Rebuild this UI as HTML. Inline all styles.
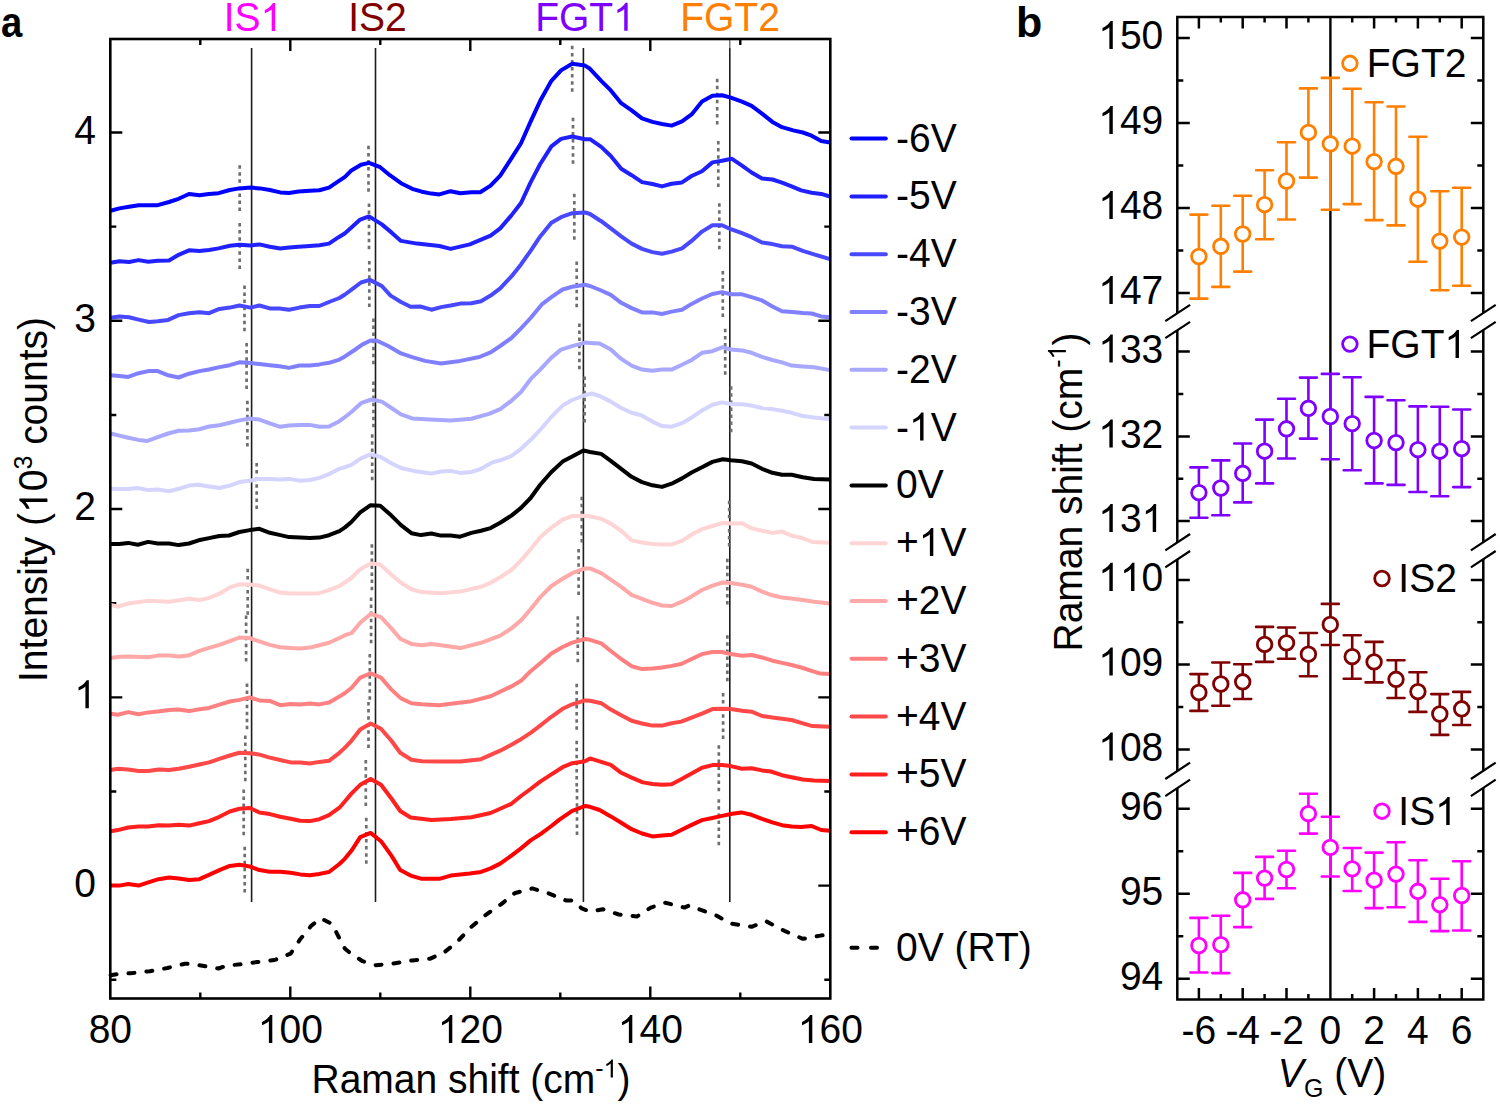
<!DOCTYPE html>
<html><head><meta charset="utf-8"><style>
html,body{margin:0;padding:0;background:#fff;}
svg{display:block;}
.t{font-family:"Liberation Sans",sans-serif;font-size:39px;fill:#000;}
.h{fill-opacity:0;}
.b{font-family:"Liberation Sans",sans-serif;font-size:43px;font-weight:bold;fill:#000;}
</style></head><body>
<svg width="1500" height="1104" viewBox="0 0 1500 1104">
<rect width="1500" height="1104" fill="#fff"/>
<path d="M290.3 998.5V986.5M290.3 39.0V51.0M470.3 998.5V986.5M470.3 39.0V51.0M650.3 998.5V986.5M650.3 39.0V51.0M200.3 998.5V992.5M200.3 39.0V45.0M380.3 998.5V992.5M380.3 39.0V45.0M560.3 998.5V992.5M560.3 39.0V45.0M740.3 998.5V992.5M740.3 39.0V45.0M110.3 697.33H122.3M830.3 697.33H818.3M110.3 509.06H122.3M830.3 509.06H818.3M110.3 320.78999999999996H122.3M830.3 320.78999999999996H818.3M110.3 132.51999999999998H122.3M830.3 132.51999999999998H818.3M110.3 885.6H122.3M830.3 885.6H818.3M110.3 979.735H116.3M830.3 979.735H824.3M110.3 791.465H116.3M830.3 791.465H824.3M110.3 603.1949999999999H116.3M830.3 603.1949999999999H824.3M110.3 414.925H116.3M830.3 414.925H824.3M110.3 226.65499999999997H116.3M830.3 226.65499999999997H824.3" stroke="#000" stroke-width="2.4" fill="none"/>
<line x1="251.6" y1="48" x2="251.6" y2="902" stroke="#1c1c1c" stroke-width="1.6"/>
<line x1="375.5" y1="48" x2="375.5" y2="902" stroke="#1c1c1c" stroke-width="1.6"/>
<line x1="583.4" y1="48" x2="583.4" y2="902" stroke="#1c1c1c" stroke-width="1.6"/>
<line x1="729.8" y1="48" x2="729.8" y2="902" stroke="#1c1c1c" stroke-width="1.6"/>
<line x1="239.7" y1="165.19" x2="239.7" y2="211.12" stroke="#6e6e6e" stroke-width="2.7" stroke-dasharray="3.5 3.57"/>
<line x1="368.5" y1="145.84" x2="368.5" y2="191.77" stroke="#6e6e6e" stroke-width="2.7" stroke-dasharray="3.5 3.57"/>
<line x1="572.2" y1="45.84" x2="572.2" y2="91.77" stroke="#6e6e6e" stroke-width="2.7" stroke-dasharray="3.5 3.57"/>
<line x1="717.2" y1="78.64" x2="717.2" y2="124.57" stroke="#6e6e6e" stroke-width="2.7" stroke-dasharray="3.5 3.57"/>
<line x1="239.7" y1="223.04" x2="239.7" y2="268.97" stroke="#6e6e6e" stroke-width="2.7" stroke-dasharray="3.5 3.57"/>
<line x1="369" y1="203.44" x2="369" y2="249.37" stroke="#6e6e6e" stroke-width="2.7" stroke-dasharray="3.5 3.57"/>
<line x1="573" y1="117.84" x2="573" y2="163.77" stroke="#6e6e6e" stroke-width="2.7" stroke-dasharray="3.5 3.57"/>
<line x1="718.3" y1="141.04" x2="718.3" y2="186.97" stroke="#6e6e6e" stroke-width="2.7" stroke-dasharray="3.5 3.57"/>
<line x1="244.5" y1="285.44" x2="244.5" y2="331.37" stroke="#6e6e6e" stroke-width="2.7" stroke-dasharray="3.5 3.57"/>
<line x1="369.3" y1="261.04" x2="369.3" y2="306.97" stroke="#6e6e6e" stroke-width="2.7" stroke-dasharray="3.5 3.57"/>
<line x1="574.3" y1="193.84" x2="574.3" y2="239.77" stroke="#6e6e6e" stroke-width="2.7" stroke-dasharray="3.5 3.57"/>
<line x1="719.3" y1="203.24" x2="719.3" y2="249.17" stroke="#6e6e6e" stroke-width="2.7" stroke-dasharray="3.5 3.57"/>
<line x1="246.6" y1="343.04" x2="246.6" y2="388.97" stroke="#6e6e6e" stroke-width="2.7" stroke-dasharray="3.5 3.57"/>
<line x1="373.5" y1="318.44" x2="373.5" y2="364.37" stroke="#6e6e6e" stroke-width="2.7" stroke-dasharray="3.5 3.57"/>
<line x1="576.7" y1="261.44" x2="576.7" y2="307.37" stroke="#6e6e6e" stroke-width="2.7" stroke-dasharray="3.5 3.57"/>
<line x1="722.8" y1="271.04" x2="722.8" y2="316.97" stroke="#6e6e6e" stroke-width="2.7" stroke-dasharray="3.5 3.57"/>
<line x1="247.4" y1="400.64" x2="247.4" y2="446.57" stroke="#6e6e6e" stroke-width="2.7" stroke-dasharray="3.5 3.57"/>
<line x1="373.5" y1="381.44" x2="373.5" y2="427.37" stroke="#6e6e6e" stroke-width="2.7" stroke-dasharray="3.5 3.57"/>
<line x1="579.4" y1="323.44" x2="579.4" y2="369.37" stroke="#6e6e6e" stroke-width="2.7" stroke-dasharray="3.5 3.57"/>
<line x1="725.2" y1="328.84" x2="725.2" y2="374.77" stroke="#6e6e6e" stroke-width="2.7" stroke-dasharray="3.5 3.57"/>
<line x1="256.7" y1="463.04" x2="256.7" y2="508.97" stroke="#6e6e6e" stroke-width="2.7" stroke-dasharray="3.5 3.57"/>
<line x1="372.2" y1="434.24" x2="372.2" y2="480.17" stroke="#6e6e6e" stroke-width="2.7" stroke-dasharray="3.5 3.57"/>
<line x1="584.6" y1="376.54" x2="584.6" y2="422.47" stroke="#6e6e6e" stroke-width="2.7" stroke-dasharray="3.5 3.57"/>
<line x1="731.1" y1="386.24" x2="731.1" y2="432.17" stroke="#6e6e6e" stroke-width="2.7" stroke-dasharray="3.5 3.57"/>
<line x1="247.7" y1="568.84" x2="247.7" y2="614.77" stroke="#6e6e6e" stroke-width="2.7" stroke-dasharray="3.5 3.57"/>
<line x1="371.9" y1="544.24" x2="371.9" y2="590.17" stroke="#6e6e6e" stroke-width="2.7" stroke-dasharray="3.5 3.57"/>
<line x1="581.8" y1="496.64" x2="581.8" y2="542.57" stroke="#6e6e6e" stroke-width="2.7" stroke-dasharray="3.5 3.57"/>
<line x1="729.2" y1="500.64" x2="729.2" y2="546.57" stroke="#6e6e6e" stroke-width="2.7" stroke-dasharray="3.5 3.57"/>
<line x1="246.1" y1="615.54" x2="246.1" y2="661.47" stroke="#6e6e6e" stroke-width="2.7" stroke-dasharray="3.5 3.57"/>
<line x1="371.1" y1="597.44" x2="371.1" y2="643.37" stroke="#6e6e6e" stroke-width="2.7" stroke-dasharray="3.5 3.57"/>
<line x1="578.6" y1="549.04" x2="578.6" y2="594.97" stroke="#6e6e6e" stroke-width="2.7" stroke-dasharray="3.5 3.57"/>
<line x1="727.3" y1="558.64" x2="727.3" y2="604.57" stroke="#6e6e6e" stroke-width="2.7" stroke-dasharray="3.5 3.57"/>
<line x1="247" y1="683.44" x2="247" y2="729.37" stroke="#6e6e6e" stroke-width="2.7" stroke-dasharray="3.5 3.57"/>
<line x1="369.8" y1="653.94" x2="369.8" y2="699.87" stroke="#6e6e6e" stroke-width="2.7" stroke-dasharray="3.5 3.57"/>
<line x1="577.8" y1="616.24" x2="577.8" y2="662.17" stroke="#6e6e6e" stroke-width="2.7" stroke-dasharray="3.5 3.57"/>
<line x1="727.3" y1="635.24" x2="727.3" y2="681.17" stroke="#6e6e6e" stroke-width="2.7" stroke-dasharray="3.5 3.57"/>
<line x1="245.3" y1="735.44" x2="245.3" y2="781.37" stroke="#6e6e6e" stroke-width="2.7" stroke-dasharray="3.5 3.57"/>
<line x1="368.5" y1="702.04" x2="368.5" y2="747.97" stroke="#6e6e6e" stroke-width="2.7" stroke-dasharray="3.5 3.57"/>
<line x1="576.7" y1="683.84" x2="576.7" y2="729.77" stroke="#6e6e6e" stroke-width="2.7" stroke-dasharray="3.5 3.57"/>
<line x1="723.1" y1="693.04" x2="723.1" y2="738.97" stroke="#6e6e6e" stroke-width="2.7" stroke-dasharray="3.5 3.57"/>
<line x1="243.7" y1="789.44" x2="243.7" y2="835.37" stroke="#6e6e6e" stroke-width="2.7" stroke-dasharray="3.5 3.57"/>
<line x1="365.8" y1="760.04" x2="365.8" y2="805.97" stroke="#6e6e6e" stroke-width="2.7" stroke-dasharray="3.5 3.57"/>
<line x1="576.7" y1="740.64" x2="576.7" y2="786.57" stroke="#6e6e6e" stroke-width="2.7" stroke-dasharray="3.5 3.57"/>
<line x1="718.8" y1="745.24" x2="718.8" y2="791.17" stroke="#6e6e6e" stroke-width="2.7" stroke-dasharray="3.5 3.57"/>
<line x1="244.7" y1="846.64" x2="244.7" y2="892.57" stroke="#6e6e6e" stroke-width="2.7" stroke-dasharray="3.5 3.57"/>
<line x1="366.3" y1="817.84" x2="366.3" y2="863.77" stroke="#6e6e6e" stroke-width="2.7" stroke-dasharray="3.5 3.57"/>
<line x1="577" y1="789.04" x2="577" y2="834.97" stroke="#6e6e6e" stroke-width="2.7" stroke-dasharray="3.5 3.57"/>
<line x1="718.8" y1="799.24" x2="718.8" y2="845.17" stroke="#6e6e6e" stroke-width="2.7" stroke-dasharray="3.5 3.57"/>
<line x1="729.8" y1="40" x2="729.8" y2="48.5" stroke="#666" stroke-width="1.3"/>
<polyline points="110.6 210.8 119.4 208.4 129 206.8 138.6 205.2 157.8 205.2 169 202 178.6 198.8 189 194 199.4 195.3 209 194 218.6 193.2 229.8 190 239.4 188.4 250.6 187.6 260.2 188.4 269.8 190 280.2 192.4 289 192.9 298.6 191.6 309.8 190.8 319.4 190.3 329 187.6 338.6 181.2 345 176.8 351.4 170.4 361 164.8 369 162.9 380.2 167.2 389.8 175.2 401 183.2 412.2 188.8 421.8 191.7 431.4 193.6 439.4 194.4 450.6 191.2 460.2 193.3 471.4 192.3 480.2 192.3 490.6 185.6 500.2 175.7 511.4 158.4 521 143.2 530.6 121.6 540.2 100.8 551.4 80.8 561 70.4 572.2 63.7 585 65.6 590 68.8 601.2 80.8 610.8 90.4 621.2 103.2 631.6 110.4 642 118.4 652.4 121.9 662 124 671.6 125.6 682 121.3 691.6 114.4 702 101.6 712.4 95.7 722 95.2 730.8 97.6 742 101.6 751.6 105.9 762 113.6 772.4 121.9 782 127.2 793.2 130.4 802.8 132.5 811.6 135.7 821.2 141.1 830 142.4" fill="none" stroke="#0000ff" stroke-width="4.0" stroke-linejoin="round" stroke-linecap="butt"/>
<polyline points="110.6 262.8 119.4 261.2 129 262 138.6 260.1 148.2 261.7 157.8 260.7 169 260.4 178.6 254.8 189 250.3 199.4 251.1 209 250 218.6 248.4 229.8 245.7 239.4 244.7 250.6 245.5 259.4 244.4 269.8 246.8 280.2 248.4 289 247.6 298.6 246.8 309.8 246 319.4 245.2 329 243.6 338.6 237.2 345 233.2 351.4 227.6 360.2 219.6 369 216.4 381.8 224.4 391.4 232.4 401 240.9 417 243.6 439.4 246 450.6 248.9 469.8 244.4 490.6 235.6 500.2 228.4 511.4 215.4 521 203 530.6 182.4 540.2 164 551.4 146.4 561 138.9 572.2 136.5 585 139.2 590 139.2 601.2 146.9 610.8 156 621.2 168.8 631.6 175.2 642 182.1 652.4 184 662 186.4 671.6 183.7 682 182.4 691.6 176 702 171.2 712.4 162.4 722 160.8 731.6 158.7 742 165.6 751.6 172.5 762 178.4 772.4 179.5 782 182.7 791.6 186.4 801.2 190.4 811.6 192.8 821.2 193.9 830 196.5" fill="none" stroke="#2020ff" stroke-width="4.0" stroke-linejoin="round" stroke-linecap="butt"/>
<polyline points="110.6 317.7 119.4 316.4 129 317.2 138.6 319.6 149 322 157.8 321.2 168.2 319.9 178.6 315.1 189 313.2 199.4 312.2 209 313.2 219.4 308.9 229.8 307.6 239.4 305.5 250.6 307.6 259.4 305.5 269.8 308.4 279.4 308.4 289 309.7 299.4 307.6 309.8 306 319.4 306 329 302 339.4 298 345 294.5 352.2 289.2 361 282.5 369.8 279.9 381.8 286 390.6 295.6 401 302 410.6 306.8 420.2 306.5 431.4 309.7 441 307.1 450.6 305.5 460.2 303.6 471.4 303.3 481 301.2 490.6 295.6 500.2 288.4 511.4 276.4 521 264.4 530.6 250.8 540.2 236.4 551.4 222.8 561 217.2 572.2 213.2 585 212.4 590 214 601.2 221.2 610.8 228.4 621.2 236.4 631.6 243.6 642 248.9 652.4 252.1 662 253.7 671.6 251.6 682 248.4 691.6 240.9 702 231.6 712.4 225.2 722 225.2 730.8 229.2 742 233.2 751.6 237.2 762 242.5 772.4 244.1 782 246.3 792.4 246.8 802.8 250.8 814 254.3 830 259.1" fill="none" stroke="#4848ff" stroke-width="4.0" stroke-linejoin="round" stroke-linecap="butt"/>
<polyline points="110.6 375.3 119.4 375.9 128.2 376.9 138.6 373.2 148.2 371.1 157.8 371.1 168.2 375.3 178.6 377.5 189 373.7 199.4 371.1 209 369.5 219.4 367.1 229.8 365.2 239.4 362.3 250.6 363.1 259.4 364.1 269.8 365.2 279.4 366.3 289 367.9 299.4 365.5 309.8 365.5 319.4 364.4 329 362.8 339.4 359.6 345 356.4 354.6 350 362.6 344.4 370.6 340.5 377 340.7 388.2 346 401 353.4 412.2 357.2 425 360.9 441 363.5 460.2 360.9 479.4 357 490.6 352.4 500.2 346 511.4 338 521 328.4 530.6 318 541.8 304.4 551.4 297.2 562.6 289.5 572.2 286.8 585 284.7 590 286 601.2 290.5 610.8 294.8 621.2 302.8 631.6 308.1 642 312.4 652.4 312.4 662 314 671.6 311.6 682 309.7 691.6 303.9 702 298.5 712.4 294 722 292.1 730.8 294.3 742 294.3 751.6 297.2 762 300.4 772.4 306.5 782 311.3 792.4 311.9 802.8 312.9 811.6 313.5 821.2 316.4 830 317.2" fill="none" stroke="#8080ff" stroke-width="4.0" stroke-linejoin="round" stroke-linecap="butt"/>
<polyline points="110.6 433.5 119.4 435.6 128.2 437.7 138.6 439.9 147.4 440.9 157.8 437.2 168.2 433.5 178.6 430.8 189 430.5 199.4 429.2 209 426.5 219.4 425.2 229.8 422.8 239.4 420.4 249.8 418.5 259.4 419.6 269.8 423.3 280.2 426.8 289 425.5 299.4 424.9 309.8 424.9 319.4 426.8 329 426.5 339.4 421.2 345 417 351.4 412 361 403.2 371.4 399.5 381.8 401.6 391.4 408 401 414.4 412.2 418.4 429.8 419.5 450.6 420.5 471.4 418.7 489 413.9 500.2 409.1 511.4 400.8 521 392 530.6 379.2 540.2 369.6 551.4 357.6 561 349.6 572.2 346.1 585 342.6 590 342.9 599.6 343.5 610.8 349.6 621.2 358.9 631.6 365.6 642 369.6 652.4 370.7 662 369.6 671.6 369.6 682 364.8 691.6 360 702 352.8 712.4 351.2 722.8 347.2 730.8 349.6 742 350.4 751.6 352.8 762 356.8 772.4 360 782 362.4 791.6 365.6 802.8 366.4 814 367.2 830 370.1" fill="none" stroke="#a8a8ff" stroke-width="4.0" stroke-linejoin="round" stroke-linecap="butt"/>
<polyline points="110.6 488.8 119.4 489.1 128.2 489.1 137.8 488 148.2 490.1 157.8 489.6 169 491.2 178.6 488.8 189 485.6 198.6 484.8 209 486.4 219.4 488 229.8 485.6 239.4 482.1 249.8 480.8 258.6 478.9 269.8 478.9 279.4 479.5 289 478.9 300.2 480.8 309.8 480 319.4 477.9 329 474.1 339.4 468.8 345 467.2 351.4 464.8 361 458.4 370.6 454.4 380.2 456.8 391.4 463.2 401 468 413.8 470.9 431.4 473.6 441 471.5 450.6 470.9 461 473.1 471.4 472 481 468.8 492.2 462.4 501 460 511.4 456 521 448.8 532.2 438.4 541.8 428 551.4 416.8 562.6 405.6 572.2 400 585 395.2 591.5 393.5 599.6 396 610.8 401.6 621.2 408 631.6 412.8 641.2 415.2 652.4 421.6 662 426.1 671.6 426.7 682 423.2 691.6 417.6 702 410.4 712.4 404.8 722 402.4 730.8 404 742 404.3 751.6 405.6 762 408 772.4 409.1 782 410.7 791.6 412.8 802.8 416 814 417.6 830 419.2" fill="none" stroke="#d4d4ff" stroke-width="4.0" stroke-linejoin="round" stroke-linecap="butt"/>
<polyline points="110.6 544 119.4 544 128.2 542.9 137.8 544.8 148.2 541.9 157.8 543.5 169 543.5 178.6 545.1 189 543.5 198.6 540.3 209 538.1 219.4 536 229 535.5 239.4 532 249.8 530.1 259.4 528.8 269.8 532.8 279.4 534.9 289 537.1 300.2 537.6 309.8 538.1 319.4 537.6 329 535.2 339.4 531.2 345 527.4 351.4 522 360.2 512.4 370.6 505.2 380.2 505.7 391.4 515.6 401 525.2 411.4 533.2 421 535.1 431.4 533.5 441 535.6 450.6 535.6 460.2 536.7 471.4 532.9 481 530.8 490.6 528.1 500.2 522.8 511.4 515.6 521 507.9 530.6 498 540.2 484.8 551.4 472 562.6 461.6 572.2 456.5 583.4 450.4 590 452 601.2 453.9 610.8 460.8 621.2 468.8 631.6 476.8 642 482.1 652.4 485.3 662 486.9 671.6 483.7 682 478.4 691.6 472.5 702 467.2 712.4 461.9 722.8 459.2 730.8 460.3 742 461.3 751.6 463.5 762 468.8 772.4 472.8 782 474.7 791.6 474.7 802.8 477.3 814 478.9 830 479.5" fill="none" stroke="#000000" stroke-width="4.0" stroke-linejoin="round" stroke-linecap="butt"/>
<polyline points="110.6 604.9 117.8 606.5 128.2 603.6 148.2 600.7 169 601.7 189 598.8 199.4 600.1 209 598 219.4 593.7 229.8 587.4 239.4 584.4 249.8 584.6 258.6 585.4 269.8 589.4 280.2 592.6 290.6 593.6 309.8 593.6 319.4 593.2 329 590.2 339.4 586 345 582.4 351.4 578 360.2 569.2 370.6 563.6 380.2 564.4 391.4 574.8 401 582.8 411.4 589.2 421.8 592.1 441 593.2 460.2 591.6 481 586.8 490.6 582.8 500.2 577.2 511.4 570 521 560.4 530.6 549.2 540.2 537.2 551.4 527.6 562.6 519.6 572.2 516.1 585 515.8 590 516.4 601.2 518.8 610.8 523.6 621.2 530.8 631.6 540.4 642 542.5 652.4 544.1 662 544.4 671.6 544.4 682 540.9 691.6 534.5 702 529.2 712.4 526 722.8 522.8 730.8 523.6 742 523.3 751.6 528.4 762 530.8 772.4 532.9 782 531.6 791.6 535.6 801.2 537.7 812.4 542 830 542.8" fill="none" stroke="#ffd4d4" stroke-width="4.0" stroke-linejoin="round" stroke-linecap="butt"/>
<polyline points="110.6 658 119.4 656.7 129 656.4 148.2 657.2 157.8 655.6 169 655.6 178.6 656.4 188.2 655.6 199.4 650.8 209 647.9 219.4 644.9 229.8 641.2 239.4 637.5 249.8 638 258.6 641.2 269.8 644.9 280.2 647.3 290.6 647.9 300.2 648.4 309.8 647.6 319.4 645.2 329 642.8 339.4 638 345 635.2 351.4 633.2 360.2 622.8 370.6 614 381 617.2 391.4 628.4 400.2 638.8 411.4 643.9 421.8 645.2 431.4 643.9 441 645.2 460.2 648.1 481 642.8 500.2 635.6 511.4 628.4 521 620.4 530.6 609.2 540.2 597.2 551.4 586 562.6 578.8 572.2 573.2 585 568.4 590 568.4 601.2 573.2 610.8 579.6 621.2 586.8 631.6 594.8 642 598.8 652.4 602.8 662 605.5 671.6 606 682 601.7 691.6 596.4 702 590 712.4 585.7 722.8 582.5 730.8 583.1 742 584.7 751.6 586.8 762 591.6 772.4 595.3 782 597.5 793.2 598.8 802.8 600.1 814 601.7 830 603.6" fill="none" stroke="#ffa8a8" stroke-width="4.0" stroke-linejoin="round" stroke-linecap="butt"/>
<polyline points="110.6 713.7 117.8 714.8 128.2 712.1 138.6 714.3 148.2 712.4 157.8 711.6 169 710 178.6 709.5 189 711.1 199.4 709.2 209 707.9 219.4 704.7 229.8 701.5 239.4 699.9 249.8 697.5 259.4 700.4 269.8 700.9 280.2 705.2 290.6 704.1 300.2 704.4 309.8 703.6 319.4 704.4 329 702.5 339.4 696.4 345 693 351.4 688 360.2 677.6 370.6 673.3 381 677.6 391.4 689.6 401 698.4 411.4 703.2 421.8 704.3 439.4 705.3 450.6 703.7 469.8 701.6 490.6 696.3 511.4 686.4 521 680.8 530.6 671.2 540.2 663.2 551.4 653.4 562.6 647 572.2 642.6 585 639 590 639.8 601.2 643.3 610.8 651 621.2 659 631.6 666.2 642 669.1 652.4 668.5 662 667.5 671.6 665.9 681.2 664 691.6 659 702 654.1 712.4 652 722 652 730.8 654.1 742 655.7 751.6 655 762 657.5 772.4 660.7 782 662.9 791.6 665 801.2 667.5 812.4 671.2 820.4 673.6 830 673.9" fill="none" stroke="#ff8080" stroke-width="4.0" stroke-linejoin="round" stroke-linecap="butt"/>
<polyline points="110.6 769.9 117.8 768.8 128.2 769.6 138.6 770.9 148.2 770.9 158.6 769.6 169 770.1 178.6 768.8 189 766.7 199.4 764.5 209 762.4 219.4 758.9 229.8 755.5 239.4 752.8 249.8 753.3 258.6 754.4 269.8 757.6 280.2 760 290.6 762.4 300.2 762.4 309.8 763.5 319.4 761.9 329 760.8 339.4 752.8 345 747.6 351.4 740.8 360.2 729.6 370.6 723.5 381 728.8 391.4 740.8 400.2 752.8 411.4 759.7 421.8 761.3 441 761.6 460.2 761.6 481 759.2 500.2 750.7 511.4 744.8 521 739.2 530.6 732.8 540.2 725.6 551.4 716.8 562.6 708.8 572.2 704.3 585 700.4 590 700.8 601.2 703.2 610.8 709.6 621.2 715.2 631.6 720.8 642 723.5 652.4 725.6 662 725.6 671.6 723.2 681.2 721.6 691.6 717.6 702 713.6 712.4 709.1 722 708.8 730.8 709.1 742 710.7 751.6 711.7 762 716 772.4 717.6 782 718.7 791.6 720 801.2 722.9 812.4 726.1 830 726.7" fill="none" stroke="#ff4848" stroke-width="4.0" stroke-linejoin="round" stroke-linecap="butt"/>
<polyline points="110.6 831.2 117.8 830.1 128.2 827.5 138.6 826.4 148.2 826.4 158.6 825.3 169 825.6 178.6 824.8 189 825.6 199.4 823.2 209 821.1 219.4 816.8 229.8 811.5 239.4 808.8 249.8 808 259.4 812.5 269.8 814.1 280.2 816.8 290.6 818.7 300.2 820.8 309.8 821.1 319.4 819.2 329 815.2 339.4 807.7 345 801.2 351.4 793.6 360.2 784.8 370.6 778.9 381 784.8 391.4 798.5 400.2 811 410.6 817.5 431.4 820.1 450.6 819.1 471.4 817.2 490.6 813 511.4 803.8 521 796 530.6 789 540.2 781.6 551.4 774.4 562.6 767.2 572.2 763.2 585 761.3 590 758.4 601.2 761.9 610.8 764.8 621.2 772.8 631.6 777.6 642.8 782.4 652.4 784 662 784.8 671.6 784.3 681.2 779.2 691.6 773.6 702 767.7 712.4 765.1 722 765.1 730.8 766.1 742 768.8 751.6 768.3 762 770.4 770.8 771.5 782 775.2 791.6 777.3 802.8 779.5 814 780.5 830 781.1" fill="none" stroke="#ff2020" stroke-width="4.0" stroke-linejoin="round" stroke-linecap="butt"/>
<polyline points="110.6 885.6 119.4 885.6 128.2 884 138.6 885.6 148.2 882.4 158.6 879.2 169 877.6 178.6 878.4 189 880 199.4 879.2 209 874.9 219.4 870.1 229.8 865.9 239.4 864.8 249.8 866.4 259.4 870.1 269.8 871.7 280.2 871.7 290.6 872.8 300.2 874.4 309.8 875.2 319.4 873.9 329 872 339.4 864 345 858.6 351.4 850.8 360.2 837.2 370.6 832.9 381 841.2 391.4 855.6 400.2 870 410.6 875.6 421.8 878.8 439.4 878.8 450.6 875.6 469.8 873.5 481 871.9 490.6 868.4 500.2 863.6 511.4 855.6 521 848.4 530.6 840.4 541.8 833.2 551.4 826 559.4 819.6 572.2 810.8 585 806 590 806.8 599.6 810 610.8 816.4 621.2 822.8 631.6 829.2 642 833.5 652.4 836.4 662 835.6 671.6 834.8 681.2 830 691.6 824.9 702 820.1 712.4 818 722 815.9 730.8 814 741.2 812.4 751.6 814.8 762 818.8 772.4 822.3 782 825.2 791.6 826.5 801.2 827.1 811.6 826 821.2 830 830 830.8" fill="none" stroke="#ff0000" stroke-width="4.0" stroke-linejoin="round" stroke-linecap="butt"/>
<polyline points="110.6 975.2 121 973.6 130.6 973.3 149.8 971.2 167.4 968 185 963.7 194.6 964.3 205.8 966.4 218.6 968.5 226.6 965.6 241 964.3 257 962.1 274.6 960 281 957.6 290.6 953.6 300.2 939.2 311.4 925.6 321 918.4 332.2 924 338.6 936.8 345 948.8 351.4 954 362.6 961.2 375.4 965.2 393 963.6 412.2 960.4 429.8 958.8 444.2 952.4 457 942 471.4 926.8 485.8 914.8 501 904.4 514.6 893.2 532.2 888.4 548.2 893.2 565.8 900.4 572.2 900.4 581.8 908.4 590 911.6 602.8 909.2 618.8 914.5 637.2 916.4 650.8 907.6 665.2 902.8 670 903.9 684.4 907.6 689.2 905.5 698.8 909.2 716.4 915.6 730.8 923.6 751.6 926.8 766 921.2 784.4 930.8 802.8 938.8 820.4 935.6 830 934" fill="none" stroke="#000" stroke-width="4.0" stroke-linejoin="round" stroke-linecap="round" stroke-dasharray="6 12"/>
<rect x="110.3" y="39.0" width="720.0" height="959.5" fill="none" stroke="#000" stroke-width="2.6"/>
<text transform="translate(110.3,1043) scale(1,1.04)" text-anchor="middle" class="t">80</text>
<text transform="translate(290.3,1043) scale(1,1.04)" text-anchor="middle" class="t"><tspan class="h">1</tspan>00</text>
<text transform="translate(470.3,1043) scale(1,1.04)" text-anchor="middle" class="t"><tspan class="h">1</tspan>20</text>
<text transform="translate(650.3,1043) scale(1,1.04)" text-anchor="middle" class="t"><tspan class="h">1</tspan>40</text>
<text transform="translate(830.3,1043) scale(1,1.04)" text-anchor="middle" class="t"><tspan class="h">1</tspan>60</text>
<text transform="translate(96,896.6) scale(1,1.04)" text-anchor="end" class="t">0</text>
<text transform="translate(96,708.3) scale(1,1.04)" text-anchor="end" class="t"><tspan class="h">1</tspan></text>
<text transform="translate(96,520.1) scale(1,1.04)" text-anchor="end" class="t">2</text>
<text transform="translate(96,331.8) scale(1,1.04)" text-anchor="end" class="t">3</text>
<text transform="translate(96,143.5) scale(1,1.04)" text-anchor="end" class="t">4</text>
<text transform="translate(471,1093) scale(1,1.04)" text-anchor="middle" class="t">Raman shift (cm<tspan dy="-15" font-size="25">-<tspan class="h">1</tspan></tspan><tspan dy="15">)</tspan></text>
<text transform="translate(47.4,499.5) rotate(-90) scale(1,1.04)" text-anchor="middle" class="t">Intensity (<tspan class="h">1</tspan>0<tspan dy="-15" font-size="25">3</tspan><tspan dy="15"> counts)</tspan></text>
<text transform="translate(253,31) scale(1,1.04)" text-anchor="middle" class="t" style="fill:#ff00ff">IS<tspan class="h">1</tspan></text>
<text transform="translate(377.5,31) scale(1,1.04)" text-anchor="middle" class="t" style="fill:#800000">IS2</text>
<text transform="translate(585,30.8) scale(1,1.04)" text-anchor="middle" class="t" style="fill:#8000ff">FGT<tspan class="h">1</tspan></text>
<text transform="translate(730,30.8) scale(1,1.04)" text-anchor="middle" class="t" style="fill:#ff8000">FGT2</text>
<line x1="851.5" y1="138.6" x2="885.8" y2="138.6" stroke="#0000ff" stroke-width="4" stroke-linecap="round"/>
<text transform="translate(896,151.5) scale(1,1.04)" class="t">-6V</text>
<line x1="851.5" y1="196.4" x2="885.8" y2="196.4" stroke="#2020ff" stroke-width="4" stroke-linecap="round"/>
<text transform="translate(896,209.3) scale(1,1.04)" class="t">-5V</text>
<line x1="851.5" y1="254.2" x2="885.8" y2="254.2" stroke="#4848ff" stroke-width="4" stroke-linecap="round"/>
<text transform="translate(896,267.1) scale(1,1.04)" class="t">-4V</text>
<line x1="851.5" y1="312.0" x2="885.8" y2="312.0" stroke="#8080ff" stroke-width="4" stroke-linecap="round"/>
<text transform="translate(896,324.9) scale(1,1.04)" class="t">-3V</text>
<line x1="851.5" y1="369.8" x2="885.8" y2="369.8" stroke="#a8a8ff" stroke-width="4" stroke-linecap="round"/>
<text transform="translate(896,382.7) scale(1,1.04)" class="t">-2V</text>
<line x1="851.5" y1="427.6" x2="885.8" y2="427.6" stroke="#d4d4ff" stroke-width="4" stroke-linecap="round"/>
<text transform="translate(896,440.5) scale(1,1.04)" class="t">-<tspan class="h">1</tspan>V</text>
<line x1="851.5" y1="485.4" x2="885.8" y2="485.4" stroke="#000000" stroke-width="4" stroke-linecap="round"/>
<text transform="translate(896,498.3) scale(1,1.04)" class="t">0V</text>
<line x1="851.5" y1="543.2" x2="885.8" y2="543.2" stroke="#ffd4d4" stroke-width="4" stroke-linecap="round"/>
<text transform="translate(896,556.1) scale(1,1.04)" class="t">+<tspan class="h">1</tspan>V</text>
<line x1="851.5" y1="601.0" x2="885.8" y2="601.0" stroke="#ffa8a8" stroke-width="4" stroke-linecap="round"/>
<text transform="translate(896,613.9) scale(1,1.04)" class="t">+2V</text>
<line x1="851.5" y1="658.8" x2="885.8" y2="658.8" stroke="#ff8080" stroke-width="4" stroke-linecap="round"/>
<text transform="translate(896,671.7) scale(1,1.04)" class="t">+3V</text>
<line x1="851.5" y1="716.6" x2="885.8" y2="716.6" stroke="#ff4848" stroke-width="4" stroke-linecap="round"/>
<text transform="translate(896,729.5) scale(1,1.04)" class="t">+4V</text>
<line x1="851.5" y1="774.4" x2="885.8" y2="774.4" stroke="#ff2020" stroke-width="4" stroke-linecap="round"/>
<text transform="translate(896,787.3) scale(1,1.04)" class="t">+5V</text>
<line x1="851.5" y1="832.2" x2="885.8" y2="832.2" stroke="#ff0000" stroke-width="4" stroke-linecap="round"/>
<text transform="translate(896,845.1) scale(1,1.04)" class="t">+6V</text>
<line x1="851.5" y1="947.8" x2="878" y2="947.8" stroke="#000" stroke-width="4" stroke-linecap="round" stroke-dasharray="6 13.5"/>
<text transform="translate(896,961.4) scale(1,1.04)" class="t">0V (RT)</text>
<text transform="translate(1.0,36.5) scale(0.89,1)" class="b">a</text>
<text x="1016" y="36.5" class="b">b</text>
<line x1="1330.4" y1="17.0" x2="1330.4" y2="999.6" stroke="#000" stroke-width="2.4"/>
<path d="M1177.3 17.0V313.0M1483.3 17.0V313.0M1177.3 38H1189.8M1483.3 38H1470.8M1177.3 80.5H1183.3M1483.3 80.5H1477.3M1177.3 123H1189.8M1483.3 123H1470.8M1177.3 165.5H1183.3M1483.3 165.5H1477.3M1177.3 208H1189.8M1483.3 208H1470.8M1177.3 250.5H1183.3M1483.3 250.5H1477.3M1177.3 293H1189.8M1483.3 293H1470.8M1177.3 330.0V542.2M1483.3 330.0V542.2M1177.3 351.5H1189.8M1483.3 351.5H1470.8M1177.3 394H1183.3M1483.3 394H1477.3M1177.3 436.5H1189.8M1483.3 436.5H1470.8M1177.3 478.8H1183.3M1483.3 478.8H1477.3M1177.3 521H1189.8M1483.3 521H1470.8M1177.3 559.2V770.8M1483.3 559.2V770.8M1177.3 579.9H1189.8M1483.3 579.9H1470.8M1177.3 622.2H1183.3M1483.3 622.2H1477.3M1177.3 664.5H1189.8M1483.3 664.5H1470.8M1177.3 707H1183.3M1483.3 707H1477.3M1177.3 749.5H1189.8M1483.3 749.5H1470.8M1177.3 787.9V999.6M1483.3 787.9V999.6M1177.3 808.7H1189.8M1483.3 808.7H1470.8M1177.3 851.2H1183.3M1483.3 851.2H1477.3M1177.3 893.7H1189.8M1483.3 893.7H1470.8M1177.3 936.2H1183.3M1483.3 936.2H1477.3M1177.3 978.7H1189.8M1483.3 978.7H1470.8M1176.1 17.0H1484.5M1176.1 999.6H1484.5M1198.9 17.0V28.5M1198.9 999.6V988.1M1220.8 17.0V22.5M1220.8 999.6V994.1M1242.7 17.0V28.5M1242.7 999.6V988.1M1264.6 17.0V22.5M1264.6 999.6V994.1M1286.5 17.0V28.5M1286.5 999.6V988.1M1308.3999999999999 17.0V22.5M1308.3999999999999 999.6V994.1M1352.2 17.0V22.5M1352.2 999.6V994.1M1374.1 17.0V28.5M1374.1 999.6V988.1M1396.0 17.0V22.5M1396.0 999.6V994.1M1417.8999999999999 17.0V28.5M1417.8999999999999 999.6V988.1M1439.8 17.0V22.5M1439.8 999.6V994.1M1461.6999999999998 17.0V28.5M1461.6999999999998 999.6V988.1" stroke="#000" stroke-width="2.5" fill="none"/>
<path d="M1165.3 321.2L1190.1000000000001 304.8M1165.3 338.2L1190.1000000000001 321.8M1470.8999999999999 321.2L1495.7 304.8M1470.8999999999999 338.2L1495.7 321.8M1165.3 550.4000000000001L1190.1000000000001 534.0M1165.3 567.4000000000001L1190.1000000000001 551.0M1470.8999999999999 550.4000000000001L1495.7 534.0M1470.8999999999999 567.4000000000001L1495.7 551.0M1165.3 779.0L1190.1000000000001 762.5999999999999M1165.3 796.1L1190.1000000000001 779.6999999999999M1470.8999999999999 779.0L1495.7 762.5999999999999M1470.8999999999999 796.1L1495.7 779.6999999999999" stroke="#000" stroke-width="2.2" fill="none"/>
<text transform="translate(1163.3,49.0) scale(1,1.04)" text-anchor="end" class="t"><tspan class="h">1</tspan>50</text>
<text transform="translate(1163.3,134.0) scale(1,1.04)" text-anchor="end" class="t"><tspan class="h">1</tspan>49</text>
<text transform="translate(1163.3,219.0) scale(1,1.04)" text-anchor="end" class="t"><tspan class="h">1</tspan>48</text>
<text transform="translate(1163.3,304.0) scale(1,1.04)" text-anchor="end" class="t"><tspan class="h">1</tspan>47</text>
<text transform="translate(1163.3,362.5) scale(1,1.04)" text-anchor="end" class="t"><tspan class="h">1</tspan>33</text>
<text transform="translate(1163.3,447.5) scale(1,1.04)" text-anchor="end" class="t"><tspan class="h">1</tspan>32</text>
<text transform="translate(1163.3,532.0) scale(1,1.04)" text-anchor="end" class="t"><tspan class="h">1</tspan>3<tspan class="h">1</tspan></text>
<text transform="translate(1163.3,590.9) scale(1,1.04)" text-anchor="end" class="t"><tspan class="h">1</tspan><tspan class="h">1</tspan>0</text>
<text transform="translate(1163.3,675.5) scale(1,1.04)" text-anchor="end" class="t"><tspan class="h">1</tspan>09</text>
<text transform="translate(1163.3,760.5) scale(1,1.04)" text-anchor="end" class="t"><tspan class="h">1</tspan>08</text>
<text transform="translate(1163.3,819.7) scale(1,1.04)" text-anchor="end" class="t">96</text>
<text transform="translate(1163.3,904.7) scale(1,1.04)" text-anchor="end" class="t">95</text>
<text transform="translate(1163.3,989.7) scale(1,1.04)" text-anchor="end" class="t">94</text>
<text transform="translate(1198.9,1043.5) scale(1,1.04)" text-anchor="middle" class="t">-6</text>
<text transform="translate(1242.7,1043.5) scale(1,1.04)" text-anchor="middle" class="t">-4</text>
<text transform="translate(1286.5,1043.5) scale(1,1.04)" text-anchor="middle" class="t">-2</text>
<text transform="translate(1330.3,1043.5) scale(1,1.04)" text-anchor="middle" class="t">0</text>
<text transform="translate(1374.1,1043.5) scale(1,1.04)" text-anchor="middle" class="t">2</text>
<text transform="translate(1417.9,1043.5) scale(1,1.04)" text-anchor="middle" class="t">4</text>
<text transform="translate(1461.7,1043.5) scale(1,1.04)" text-anchor="middle" class="t">6</text>
<text transform="translate(1332,1087) scale(1,1.04)" text-anchor="middle" class="t"><tspan font-style="italic">V</tspan><tspan font-size="25" dy="10">G</tspan><tspan dy="-10"> (V)</tspan></text>
<text transform="translate(1081.5,492) rotate(-90) scale(1,1.04)" text-anchor="middle" class="t">Raman shift (cm<tspan dy="-15" font-size="25">-<tspan class="h">1</tspan></tspan><tspan dy="15">)</tspan></text>
<path d="M1198.9 214.6V298.6M1190.4 214.6H1207.4M1190.4 298.6H1207.4M1220.8 205.7V286.9M1212.3 205.7H1229.3M1212.3 286.9H1229.3M1242.7 195.8V271.6M1234.2 195.8H1251.2M1234.2 271.6H1251.2M1264.6 170.3V239.2M1256.1 170.3H1273.1M1256.1 239.2H1273.1M1286.5 142.2V219.5M1278.0 142.2H1295.0M1278.0 219.5H1295.0M1308.4 88.4V177.6M1299.9 88.4H1316.9M1299.9 177.6H1316.9M1330.3 77.9V209.7M1321.8 77.9H1338.8M1321.8 209.7H1338.8M1352.2 88.7V204.1M1343.7 88.7H1360.7M1343.7 204.1H1360.7M1374.1 102.2V220.1M1365.6 102.2H1382.6M1365.6 220.1H1382.6M1396.0 106.5V225.4M1387.5 106.5H1404.5M1387.5 225.4H1404.5M1417.9 136.7V261.7M1409.4 136.7H1426.4M1409.4 261.7H1426.4M1439.8 191.2V290.3M1431.3 191.2H1448.3M1431.3 290.3H1448.3M1461.7 187.8V285.7M1453.2 187.8H1470.2M1453.2 285.7H1470.2" stroke="#ff8000" stroke-width="2.6" stroke-linecap="round" fill="none"/>
<circle cx="1198.9" cy="256.5" r="7.3" fill="#fff" stroke="#ff8000" stroke-width="2.8"/>
<circle cx="1220.8" cy="246.3" r="7.3" fill="#fff" stroke="#ff8000" stroke-width="2.8"/>
<circle cx="1242.7" cy="234" r="7.3" fill="#fff" stroke="#ff8000" stroke-width="2.8"/>
<circle cx="1264.6" cy="204.7" r="7.3" fill="#fff" stroke="#ff8000" stroke-width="2.8"/>
<circle cx="1286.5" cy="181" r="7.3" fill="#fff" stroke="#ff8000" stroke-width="2.8"/>
<circle cx="1308.4" cy="132.4" r="7.3" fill="#fff" stroke="#ff8000" stroke-width="2.8"/>
<circle cx="1330.3" cy="143.8" r="7.3" fill="#fff" stroke="#ff8000" stroke-width="2.8"/>
<circle cx="1352.2" cy="146.2" r="7.3" fill="#fff" stroke="#ff8000" stroke-width="2.8"/>
<circle cx="1374.1" cy="161.6" r="7.3" fill="#fff" stroke="#ff8000" stroke-width="2.8"/>
<circle cx="1396.0" cy="166.3" r="7.3" fill="#fff" stroke="#ff8000" stroke-width="2.8"/>
<circle cx="1417.9" cy="199.2" r="7.3" fill="#fff" stroke="#ff8000" stroke-width="2.8"/>
<circle cx="1439.8" cy="241.1" r="7.3" fill="#fff" stroke="#ff8000" stroke-width="2.8"/>
<circle cx="1461.7" cy="237.1" r="7.3" fill="#fff" stroke="#ff8000" stroke-width="2.8"/>
<path d="M1198.9 467.4V517.7M1190.4 467.4H1207.4M1190.4 517.7H1207.4M1220.8 460.4V515.3M1212.3 460.4H1229.3M1212.3 515.3H1229.3M1242.7 443.5V502.4M1234.2 443.5H1251.2M1234.2 502.4H1251.2M1264.6 419.6V483.4M1256.1 419.6H1273.1M1256.1 483.4H1273.1M1286.5 398.7V458.5M1278.0 398.7H1295.0M1278.0 458.5H1295.0M1308.4 377.6V438.6M1299.9 377.6H1316.9M1299.9 438.6H1316.9M1330.3 373.9V459.2M1321.8 373.9H1338.8M1321.8 459.2H1338.8M1352.2 377.3V470.2M1343.7 377.3H1360.7M1343.7 470.2H1360.7M1374.1 396.9V483.4M1365.6 396.9H1382.6M1365.6 483.4H1382.6M1396.0 400.3V484.9M1387.5 400.3H1404.5M1387.5 484.9H1404.5M1417.9 406.4V492M1409.4 406.4H1426.4M1409.4 492H1426.4M1439.8 406.7V496.3M1431.3 406.7H1448.3M1431.3 496.3H1448.3M1461.7 409.5V487.1M1453.2 409.5H1470.2M1453.2 487.1H1470.2" stroke="#8000ff" stroke-width="2.6" stroke-linecap="round" fill="none"/>
<circle cx="1198.9" cy="492.6" r="7.3" fill="#fff" stroke="#8000ff" stroke-width="2.8"/>
<circle cx="1220.8" cy="488" r="7.3" fill="#fff" stroke="#8000ff" stroke-width="2.8"/>
<circle cx="1242.7" cy="473.3" r="7.3" fill="#fff" stroke="#8000ff" stroke-width="2.8"/>
<circle cx="1264.6" cy="451.2" r="7.3" fill="#fff" stroke="#8000ff" stroke-width="2.8"/>
<circle cx="1286.5" cy="428.8" r="7.3" fill="#fff" stroke="#8000ff" stroke-width="2.8"/>
<circle cx="1308.4" cy="408.3" r="7.3" fill="#fff" stroke="#8000ff" stroke-width="2.8"/>
<circle cx="1330.3" cy="416.5" r="7.3" fill="#fff" stroke="#8000ff" stroke-width="2.8"/>
<circle cx="1352.2" cy="423.6" r="7.3" fill="#fff" stroke="#8000ff" stroke-width="2.8"/>
<circle cx="1374.1" cy="440.5" r="7.3" fill="#fff" stroke="#8000ff" stroke-width="2.8"/>
<circle cx="1396.0" cy="442.6" r="7.3" fill="#fff" stroke="#8000ff" stroke-width="2.8"/>
<circle cx="1417.9" cy="449.7" r="7.3" fill="#fff" stroke="#8000ff" stroke-width="2.8"/>
<circle cx="1439.8" cy="451.2" r="7.3" fill="#fff" stroke="#8000ff" stroke-width="2.8"/>
<circle cx="1461.7" cy="448.7" r="7.3" fill="#fff" stroke="#8000ff" stroke-width="2.8"/>
<path d="M1198.9 674.1V710.9M1190.4 674.1H1207.4M1190.4 710.9H1207.4M1220.8 662.5V705.7M1212.3 662.5H1229.3M1212.3 705.7H1229.3M1242.7 664.3V699M1234.2 664.3H1251.2M1234.2 699H1251.2M1264.6 626.9V661.9M1256.1 626.9H1273.1M1256.1 661.9H1273.1M1286.5 627.5V658.8M1278.0 627.5H1295.0M1278.0 658.8H1295.0M1308.4 633V676.3M1299.9 633H1316.9M1299.9 676.3H1316.9M1330.3 603.9V645M1321.8 603.9H1338.8M1321.8 645H1338.8M1352.2 635.2V678.7M1343.7 635.2H1360.7M1343.7 678.7H1360.7M1374.1 641.9V682.4M1365.6 641.9H1382.6M1365.6 682.4H1382.6M1396.0 660.3V698M1387.5 660.3H1404.5M1387.5 698H1404.5M1417.9 672.3V711.9M1409.4 672.3H1426.4M1409.4 711.9H1426.4M1439.8 694.1V734.9M1431.3 694.1H1448.3M1431.3 734.9H1448.3M1461.7 691.9V725M1453.2 691.9H1470.2M1453.2 725H1470.2" stroke="#800000" stroke-width="2.6" stroke-linecap="round" fill="none"/>
<circle cx="1198.9" cy="692.5" r="7.3" fill="#fff" stroke="#800000" stroke-width="2.8"/>
<circle cx="1220.8" cy="684" r="7.3" fill="#fff" stroke="#800000" stroke-width="2.8"/>
<circle cx="1242.7" cy="681.8" r="7.3" fill="#fff" stroke="#800000" stroke-width="2.8"/>
<circle cx="1264.6" cy="644.4" r="7.3" fill="#fff" stroke="#800000" stroke-width="2.8"/>
<circle cx="1286.5" cy="642.9" r="7.3" fill="#fff" stroke="#800000" stroke-width="2.8"/>
<circle cx="1308.4" cy="654.2" r="7.3" fill="#fff" stroke="#800000" stroke-width="2.8"/>
<circle cx="1330.3" cy="624.5" r="7.3" fill="#fff" stroke="#800000" stroke-width="2.8"/>
<circle cx="1352.2" cy="656.7" r="7.3" fill="#fff" stroke="#800000" stroke-width="2.8"/>
<circle cx="1374.1" cy="661.9" r="7.3" fill="#fff" stroke="#800000" stroke-width="2.8"/>
<circle cx="1396.0" cy="679.3" r="7.3" fill="#fff" stroke="#800000" stroke-width="2.8"/>
<circle cx="1417.9" cy="691.6" r="7.3" fill="#fff" stroke="#800000" stroke-width="2.8"/>
<circle cx="1439.8" cy="714" r="7.3" fill="#fff" stroke="#800000" stroke-width="2.8"/>
<circle cx="1461.7" cy="708.8" r="7.3" fill="#fff" stroke="#800000" stroke-width="2.8"/>
<path d="M1198.9 917.9V972.5M1190.4 917.9H1207.4M1190.4 972.5H1207.4M1220.8 915.8V973.1M1212.3 915.8H1229.3M1212.3 973.1H1229.3M1242.7 872.9V927.1M1234.2 872.9H1251.2M1234.2 927.1H1251.2M1264.6 856.9V898.9M1256.1 856.9H1273.1M1256.1 898.9H1273.1M1286.5 850.8V888.2M1278.0 850.8H1295.0M1278.0 888.2H1295.0M1308.4 793.7V833.6M1299.9 793.7H1316.9M1299.9 833.6H1316.9M1330.3 816.7V876.5M1321.8 816.7H1338.8M1321.8 876.5H1338.8M1352.2 848V891M1343.7 848H1360.7M1343.7 891H1360.7M1374.1 852.6V908.1M1365.6 852.6H1382.6M1365.6 908.1H1382.6M1396.0 842.2V907.2M1387.5 842.2H1404.5M1387.5 907.2H1404.5M1417.9 860.3V921.9M1409.4 860.3H1426.4M1409.4 921.9H1426.4M1439.8 878.7V931.1M1431.3 878.7H1448.3M1431.3 931.1H1448.3M1461.7 861.2V930.5M1453.2 861.2H1470.2M1453.2 930.5H1470.2" stroke="#ff00ff" stroke-width="2.6" stroke-linecap="round" fill="none"/>
<circle cx="1198.9" cy="945.5" r="7.3" fill="#fff" stroke="#ff00ff" stroke-width="2.8"/>
<circle cx="1220.8" cy="944.6" r="7.3" fill="#fff" stroke="#ff00ff" stroke-width="2.8"/>
<circle cx="1242.7" cy="899.8" r="7.3" fill="#fff" stroke="#ff00ff" stroke-width="2.8"/>
<circle cx="1264.6" cy="878.1" r="7.3" fill="#fff" stroke="#ff00ff" stroke-width="2.8"/>
<circle cx="1286.5" cy="869.5" r="7.3" fill="#fff" stroke="#ff00ff" stroke-width="2.8"/>
<circle cx="1308.4" cy="813.7" r="7.3" fill="#fff" stroke="#ff00ff" stroke-width="2.8"/>
<circle cx="1330.3" cy="847.4" r="7.3" fill="#fff" stroke="#ff00ff" stroke-width="2.8"/>
<circle cx="1352.2" cy="868.9" r="7.3" fill="#fff" stroke="#ff00ff" stroke-width="2.8"/>
<circle cx="1374.1" cy="880.2" r="7.3" fill="#fff" stroke="#ff00ff" stroke-width="2.8"/>
<circle cx="1396.0" cy="874.1" r="7.3" fill="#fff" stroke="#ff00ff" stroke-width="2.8"/>
<circle cx="1417.9" cy="891.3" r="7.3" fill="#fff" stroke="#ff00ff" stroke-width="2.8"/>
<circle cx="1439.8" cy="904.7" r="7.3" fill="#fff" stroke="#ff00ff" stroke-width="2.8"/>
<circle cx="1461.7" cy="895.5" r="7.3" fill="#fff" stroke="#ff00ff" stroke-width="2.8"/>
<circle cx="1349.9" cy="63.3" r="7.3" fill="#fff" stroke="#ff8000" stroke-width="2.8"/>
<text transform="translate(1366.8,77.2) scale(1,1.04)" class="t">FGT2</text>
<circle cx="1349.9" cy="344.1" r="7.3" fill="#fff" stroke="#8000ff" stroke-width="2.8"/>
<text transform="translate(1366.5,358.0) scale(1,1.04)" class="t">FGT<tspan class="h">1</tspan></text>
<circle cx="1382" cy="578.5" r="7.3" fill="#fff" stroke="#800000" stroke-width="2.8"/>
<text transform="translate(1398.3,592.4) scale(1,1.04)" class="t">IS2</text>
<circle cx="1382" cy="811.2" r="7.3" fill="#fff" stroke="#ff00ff" stroke-width="2.8"/>
<text transform="translate(1398.3,825.1) scale(1,1.04)" class="t">IS<tspan class="h">1</tspan></text>
<path d="M763 0L583 0L583 1147Q518 1085 412.5 1023Q307 961 223 930L223 1104Q374 1175 486.5 1276Q599 1377 647 1472L763 1472Z" transform="translate(290.3,1043) scale(1,1.04) translate(-32.52,0.00) scale(0.019043,-0.018311)" fill="rgb(0, 0, 0)"/>
<path d="M763 0L583 0L583 1147Q518 1085 412.5 1023Q307 961 223 930L223 1104Q374 1175 486.5 1276Q599 1377 647 1472L763 1472Z" transform="translate(470.3,1043) scale(1,1.04) translate(-32.52,0.00) scale(0.019043,-0.018311)" fill="rgb(0, 0, 0)"/>
<path d="M763 0L583 0L583 1147Q518 1085 412.5 1023Q307 961 223 930L223 1104Q374 1175 486.5 1276Q599 1377 647 1472L763 1472Z" transform="translate(650.3,1043) scale(1,1.04) translate(-32.52,0.00) scale(0.019043,-0.018311)" fill="rgb(0, 0, 0)"/>
<path d="M763 0L583 0L583 1147Q518 1085 412.5 1023Q307 961 223 930L223 1104Q374 1175 486.5 1276Q599 1377 647 1472L763 1472Z" transform="translate(830.3,1043) scale(1,1.04) translate(-32.52,0.00) scale(0.019043,-0.018311)" fill="rgb(0, 0, 0)"/>
<path d="M763 0L583 0L583 1147Q518 1085 412.5 1023Q307 961 223 930L223 1104Q374 1175 486.5 1276Q599 1377 647 1472L763 1472Z" transform="translate(96,708.3) scale(1,1.04) translate(-21.69,0.00) scale(0.019043,-0.018311)" fill="rgb(0, 0, 0)"/>
<path d="M763 0L583 0L583 1147Q518 1085 412.5 1023Q307 961 223 930L223 1104Q374 1175 486.5 1276Q599 1377 647 1472L763 1472Z" transform="translate(471,1093) scale(1,1.04) translate(132.59,-15.00) scale(0.012207,-0.011738)" fill="rgb(0, 0, 0)"/>
<path d="M763 0L583 0L583 1147Q518 1085 412.5 1023Q307 961 223 930L223 1104Q374 1175 486.5 1276Q599 1377 647 1472L763 1472Z" transform="translate(47.4,499.5) rotate(-90) scale(1,1.04) translate(-13.48,0.00) scale(0.019043,-0.018311)" fill="rgb(0, 0, 0)"/>
<path d="M763 0L583 0L583 1147Q518 1085 412.5 1023Q307 961 223 930L223 1104Q374 1175 486.5 1276Q599 1377 647 1472L763 1472Z" transform="translate(253,31) scale(1,1.04) translate(7.57,0.00) scale(0.019043,-0.018311)" fill="rgb(255, 0, 255)"/>
<path d="M763 0L583 0L583 1147Q518 1085 412.5 1023Q307 961 223 930L223 1104Q374 1175 486.5 1276Q599 1377 647 1472L763 1472Z" transform="translate(585,30.8) scale(1,1.04) translate(28.13,0.00) scale(0.019043,-0.018311)" fill="rgb(128, 0, 255)"/>
<path d="M763 0L583 0L583 1147Q518 1085 412.5 1023Q307 961 223 930L223 1104Q374 1175 486.5 1276Q599 1377 647 1472L763 1472Z" transform="translate(896,440.5) scale(1,1.04) translate(12.99,0.00) scale(0.019043,-0.018311)" fill="rgb(0, 0, 0)"/>
<path d="M763 0L583 0L583 1147Q518 1085 412.5 1023Q307 961 223 930L223 1104Q374 1175 486.5 1276Q599 1377 647 1472L763 1472Z" transform="translate(896,556.1) scale(1,1.04) translate(22.77,0.00) scale(0.019043,-0.018311)" fill="rgb(0, 0, 0)"/>
<path d="M763 0L583 0L583 1147Q518 1085 412.5 1023Q307 961 223 930L223 1104Q374 1175 486.5 1276Q599 1377 647 1472L763 1472Z" transform="translate(1163.3,49.0) scale(1,1.04) translate(-65.05,0.00) scale(0.019043,-0.018311)" fill="rgb(0, 0, 0)"/>
<path d="M763 0L583 0L583 1147Q518 1085 412.5 1023Q307 961 223 930L223 1104Q374 1175 486.5 1276Q599 1377 647 1472L763 1472Z" transform="translate(1163.3,134.0) scale(1,1.04) translate(-65.05,0.00) scale(0.019043,-0.018311)" fill="rgb(0, 0, 0)"/>
<path d="M763 0L583 0L583 1147Q518 1085 412.5 1023Q307 961 223 930L223 1104Q374 1175 486.5 1276Q599 1377 647 1472L763 1472Z" transform="translate(1163.3,219.0) scale(1,1.04) translate(-65.05,0.00) scale(0.019043,-0.018311)" fill="rgb(0, 0, 0)"/>
<path d="M763 0L583 0L583 1147Q518 1085 412.5 1023Q307 961 223 930L223 1104Q374 1175 486.5 1276Q599 1377 647 1472L763 1472Z" transform="translate(1163.3,304.0) scale(1,1.04) translate(-65.05,0.00) scale(0.019043,-0.018311)" fill="rgb(0, 0, 0)"/>
<path d="M763 0L583 0L583 1147Q518 1085 412.5 1023Q307 961 223 930L223 1104Q374 1175 486.5 1276Q599 1377 647 1472L763 1472Z" transform="translate(1163.3,362.5) scale(1,1.04) translate(-65.05,0.00) scale(0.019043,-0.018311)" fill="rgb(0, 0, 0)"/>
<path d="M763 0L583 0L583 1147Q518 1085 412.5 1023Q307 961 223 930L223 1104Q374 1175 486.5 1276Q599 1377 647 1472L763 1472Z" transform="translate(1163.3,447.5) scale(1,1.04) translate(-65.05,0.00) scale(0.019043,-0.018311)" fill="rgb(0, 0, 0)"/>
<path d="M763 0L583 0L583 1147Q518 1085 412.5 1023Q307 961 223 930L223 1104Q374 1175 486.5 1276Q599 1377 647 1472L763 1472Z" transform="translate(1163.3,532.0) scale(1,1.04) translate(-65.06,0.00) scale(0.019043,-0.018311)" fill="rgb(0, 0, 0)"/>
<path d="M763 0L583 0L583 1147Q518 1085 412.5 1023Q307 961 223 930L223 1104Q374 1175 486.5 1276Q599 1377 647 1472L763 1472Z" transform="translate(1163.3,532.0) scale(1,1.04) translate(-21.69,0.00) scale(0.019043,-0.018311)" fill="rgb(0, 0, 0)"/>
<path d="M763 0L583 0L583 1147Q518 1085 412.5 1023Q307 961 223 930L223 1104Q374 1175 486.5 1276Q599 1377 647 1472L763 1472Z" transform="translate(1163.3,590.9) scale(1,1.04) translate(-65.06,0.00) scale(0.019043,-0.018311)" fill="rgb(0, 0, 0)"/>
<path d="M763 0L583 0L583 1147Q518 1085 412.5 1023Q307 961 223 930L223 1104Q374 1175 486.5 1276Q599 1377 647 1472L763 1472Z" transform="translate(1163.3,590.9) scale(1,1.04) translate(-43.37,0.00) scale(0.019043,-0.018311)" fill="rgb(0, 0, 0)"/>
<path d="M763 0L583 0L583 1147Q518 1085 412.5 1023Q307 961 223 930L223 1104Q374 1175 486.5 1276Q599 1377 647 1472L763 1472Z" transform="translate(1163.3,675.5) scale(1,1.04) translate(-65.05,0.00) scale(0.019043,-0.018311)" fill="rgb(0, 0, 0)"/>
<path d="M763 0L583 0L583 1147Q518 1085 412.5 1023Q307 961 223 930L223 1104Q374 1175 486.5 1276Q599 1377 647 1472L763 1472Z" transform="translate(1163.3,760.5) scale(1,1.04) translate(-65.05,0.00) scale(0.019043,-0.018311)" fill="rgb(0, 0, 0)"/>
<path d="M763 0L583 0L583 1147Q518 1085 412.5 1023Q307 961 223 930L223 1104Q374 1175 486.5 1276Q599 1377 647 1472L763 1472Z" transform="translate(1081.5,492) rotate(-90) scale(1,1.04) translate(132.59,-15.00) scale(0.012207,-0.011738)" fill="rgb(0, 0, 0)"/>
<path d="M763 0L583 0L583 1147Q518 1085 412.5 1023Q307 961 223 930L223 1104Q374 1175 486.5 1276Q599 1377 647 1472L763 1472Z" transform="translate(1366.5,358.0) scale(1,1.04) translate(77.94,0.00) scale(0.019043,-0.018311)" fill="rgb(0, 0, 0)"/>
<path d="M763 0L583 0L583 1147Q518 1085 412.5 1023Q307 961 223 930L223 1104Q374 1175 486.5 1276Q599 1377 647 1472L763 1472Z" transform="translate(1398.3,825.1) scale(1,1.04) translate(36.83,0.00) scale(0.019043,-0.018311)" fill="rgb(0, 0, 0)"/>
</svg>
</body></html>
